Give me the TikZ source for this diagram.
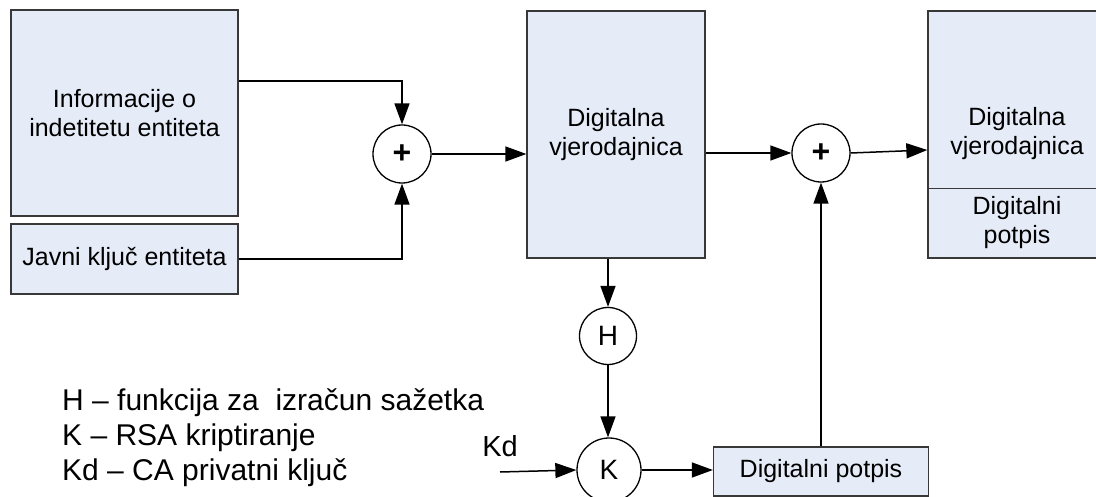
\documentclass[tikz,border=0pt]{standalone}
\usepackage{fontspec}
\setmainfont{Liberation Sans}
\usetikzlibrary{arrows.meta}
\definecolor{boxfill}{HTML}{E6ECF7}
\definecolor{boxline}{HTML}{383838}
\begin{document}
\begin{tikzpicture}[x=1pt,y=-1pt,
  box/.style={draw=boxline,line width=1.3pt,fill=boxfill,rectangle,inner sep=0pt,
    align=center,font=\fontsize{25}{29}\selectfont},
  op/.style={draw=black,line width=1.3pt,fill=white,circle,inner sep=0pt,
    font=\fontsize{28}{30}\selectfont},
  plus/.style={op,font=\fontsize{32}{32}\selectfont\bfseries},
  conn/.style={line width=1.5pt,-{Triangle[length=21pt,width=15pt]}},
  legend/.style={anchor=base west,inner sep=0pt,font=\fontsize{30}{35}\selectfont}]
\useasboundingbox (0,0) rectangle (1096,497);
\clip (0,0) rectangle (1096,497);

% input blocks
\node[box,minimum width=227pt,minimum height=206pt] (info) at (124.5,113)
  {Informacije o\\indetitetu entiteta};
\node[box,minimum width=227pt,minimum height=70pt] (pub) at (124.5,259)
  {Javni ključ entiteta};

% first join
\node[plus,minimum size=58pt] (p1) at (402,154) {+};

% credential
\node[box,minimum width=178pt,minimum height=247pt] (cred) at (616,134.5)
  {Digitalna\\vjerodajnica};

% second join
\node[plus,minimum size=58pt] (p2) at (821,153) {+};

% signed credential
\node[box,minimum width=178pt,minimum height=247pt] (out) at (1017,134.5) {};
\draw[draw=boxline,line width=1.3pt]
  ([yshift=70pt]out.south west) -- ([yshift=70pt]out.south east);
\node[align=center,font=\fontsize{25}{29}\selectfont] (outtop) at (1017,134)
  {Digitalna\\vjerodajnica};
\node[align=center,font=\fontsize{25}{29}\selectfont] (outsig) at (1017,223)
  {Digitalni\\potpis};

% hashing and signing
\node[op,minimum size=57pt] (hash) at (608,336) {H};
\node[op,minimum size=64pt] (enc) at (609,470) {K};
\node[box,minimum width=215pt,minimum height=49pt] (sig) at (821,471.5)
  {Digitalni potpis};

\coordinate (kd) at (500,472);
\node[font=\fontsize{29}{32}\selectfont,inner sep=0pt] (kdlabel) at (500,446) {Kd};

% connectors
\draw[conn] ([yshift=32pt]info.east) -| (p1.north);
\draw[conn] (pub.east) -| (p1.south);
\draw[conn] (p1.east) -- (p1.east -| cred.west);
\draw[conn] (p2 -| cred.east) -- (p2.west);
\draw[conn] (p2.east) -- ([yshift=-15.5pt]out.west);
\draw[conn] (hash.north |- cred.south) -- (hash.north);
\draw[conn] (hash.south) -- (hash.south |- enc.north);
\draw[conn] (kd) -- (enc.west);
\draw[conn] (enc.east) -- (enc.east -| sig.west);
\draw[conn] (sig.north) -- (p2.south);

% legend
\node[legend] (l1) at (62,410) {H – funkcija za\ \ izračun sažetka};
\node[legend] (l2) at (62,445) {K – RSA kriptiranje};
\node[legend] (l3) at (62,480) {Kd – CA privatni ključ};
\end{tikzpicture}
\end{document}
